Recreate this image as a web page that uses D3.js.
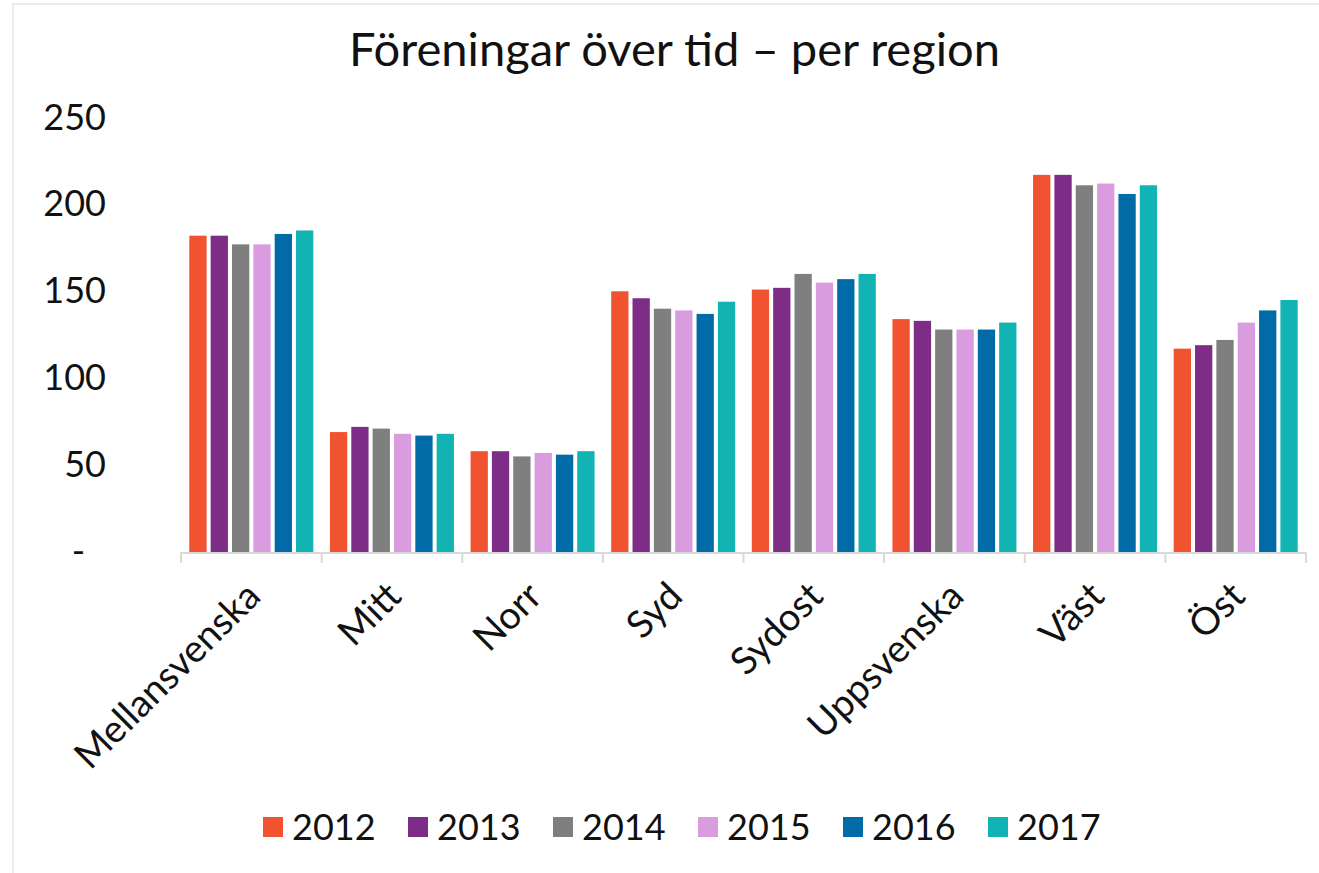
<!DOCTYPE html>
<html>
<head>
<meta charset="utf-8">
<script src="https://cdn.jsdelivr.net/npm/d3@7"></script>
<style>
  html, body { margin: 0; padding: 0; background: #fff; }
  svg { display: block; font-family: Lato, "Open Sans", sans-serif; font-weight: 400; }
</style>
</head>
<body>
<svg id="chart" width="1319" height="873"></svg>
<script>
const title = "Föreningar över tid – per region";
const regions = ["Mellansvenska", "Mitt", "Norr", "Syd", "Sydost", "Uppsvenska", "Väst", "Öst"];
const years = ["2012", "2013", "2014", "2015", "2016", "2017"];
const colors = ["#f15230", "#7e2d87", "#7f7f7f", "#d99ddf", "#006ba6", "#12b3b3"];
const v2012 = [182, 69, 58, 150, 151, 134, 217, 117];
const v2013 = [182, 72, 58, 146, 152, 133, 217, 119];
const v2014 = [177, 71, 55, 140, 160, 128, 211, 122];
const v2015 = [177, 68, 57, 139, 155, 128, 212, 132];
const v2016 = [183, 67, 56, 137, 157, 128, 206, 139];
const v2017 = [185, 68, 58, 144, 160, 132, 211, 145];
const yTicks = [0, 50, 100, 150, 200, 250];

const series = [v2012, v2013, v2014, v2015, v2016, v2017];

const svg = d3.select("#chart");

// chart area border
svg.append("rect")
  .attr("x", 13).attr("y", 4)
  .attr("width", 1340).attr("height", 900)
  .attr("fill", "none").attr("stroke", "#ececec").attr("stroke-width", 2);

const plot = { left: 181, right: 1306, top: 117.5, bottom: 552 };

const x0 = d3.scaleBand().domain(regions).range([plot.left, plot.right]).padding(0);
const groupW = 124;
const x1 = d3.scaleBand().domain(years).range([0, groupW]).paddingInner(0.19).paddingOuter(0);
const y = d3.scaleLinear().domain([0, 250]).range([plot.bottom, plot.top]);

// title
const t = svg.append("text")
  .attr("x", 674.5).attr("y", 66)
  .attr("text-anchor", "middle")
  .attr("fill", "#111")
  .style("font-size", "40px")
  .text(title);
const tw = t.node().getComputedTextLength();
t.style("font-size", (40 * 651 / tw) + "px");

// bars
const groups = svg.append("g").selectAll("g")
  .data(regions)
  .join("g")
  .attr("transform", d => `translate(${x0(d) + (x0.bandwidth() - groupW) / 2},0)`);

groups.selectAll("rect")
  .data((d, i) => years.map((yr, j) => ({ yr, j, v: series[j][i] })))
  .join("rect")
  .attr("x", d => x1(d.yr))
  .attr("width", x1.bandwidth())
  .attr("y", d => y(d.v))
  .attr("height", d => y(0) - y(d.v))
  .attr("fill", d => colors[d.j]);

// y axis labels
const yAxis = d3.axisLeft(y)
  .tickValues(yTicks)
  .tickSize(0)
  .tickPadding(0)
  .tickFormat(d => d === 0 ? "-" : d3.format("d")(d));
const ya = svg.append("g").attr("transform", "translate(106,0)").call(yAxis);
ya.select(".domain").remove();
ya.selectAll("text")
  .style("font-size", "36px")
  .style("font-family", "Lato, 'Open Sans', sans-serif")
  .style("font-weight", "400")
  .attr("fill", "#111")
  .attr("dx", d => d === 0 ? -21 : 0);

// x axis line and ticks at category boundaries
const xa = svg.append("g");
xa.append("line")
  .attr("x1", plot.left).attr("x2", plot.right)
  .attr("y1", plot.bottom + 1).attr("y2", plot.bottom + 1)
  .attr("stroke", "#d9d9d9").attr("stroke-width", 2);
const bounds = regions.map(r => x0(r)).concat([x0(regions[regions.length - 1]) + x0.bandwidth()]);
xa.selectAll("line.tick")
  .data(bounds)
  .join("line")
  .attr("class", "tick")
  .attr("x1", d => d).attr("x2", d => d)
  .attr("y1", plot.bottom).attr("y2", plot.bottom + 11)
  .attr("stroke", "#d9d9d9").attr("stroke-width", 2);

// category labels
xa.selectAll("text")
  .data(regions)
  .join("text")
  .attr("transform", d => `translate(${x0(d) + x0.bandwidth() / 2 + 2},${plot.bottom + 37}) rotate(-45)`)
  .attr("text-anchor", "end")
  .attr("dy", "0.35em")
  .attr("fill", "#111")
  .style("font-size", "38px")
  .text(d => d);

// legend
const legendX = [263, 408, 553, 698, 843, 988];
const lg = svg.append("g").selectAll("g")
  .data(years)
  .join("g")
  .attr("transform", (d, i) => `translate(${legendX[i]},0)`);
lg.append("rect")
  .attr("x", 0).attr("y", 817)
  .attr("width", 20).attr("height", 20)
  .attr("fill", (d, i) => colors[i]);
lg.append("text")
  .attr("x", 29).attr("y", 827)
  .attr("dy", "0.35em")
  .attr("fill", "#111")
  .style("font-size", "36px")
  .text(d => d);
</script>
</body>
</html>
